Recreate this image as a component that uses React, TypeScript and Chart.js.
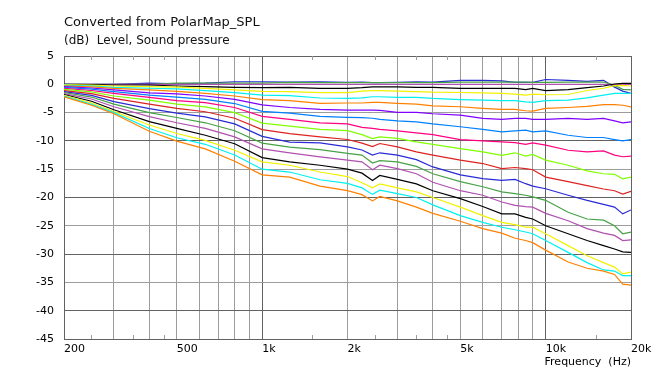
import { useEffect, useRef } from "react";
import { Chart, registerables } from "chart.js";

Chart.register(...registerables);

// ---------- data ----------
const FREQ_HZ = [200, 250, 300, 400, 500, 630, 800, 1000, 1250, 1600, 2000, 2250, 2450, 2600, 3000, 3500, 4000, 5000, 6000, 7000, 7800, 8500, 9000, 10000, 12000, 14000, 16000, 17500, 18700, 20000];

const ANGLE_LABELS = ["-10°", "-5°", "0°", "5°", "10°", "15°", "20°", "25°", "30°", "35°", "40°", "45°", "50°", "55°", "60°", "65°", "70°", "75°", "80°"];

const SPL_M10 = [0, 0, 0, 0.2, 0.1, 0.2, 0.45, 0.45, 0.4, 0.45, 0.35, 0.4, 0.3, 0.3, 0.35, 0.45, 0.4, 0.7, 0.7, 0.6, 0.35, 0.35, 0.35, 0.85, 0.7, 0.5, 0.7, -0.5, -1.2, -1.6];
const SPL_M5 = [0, 0, 0, 0, 0.2, 0.2, 0.2, 0.2, 0.35, 0.3, 0.3, 0.3, 0.3, 0.3, 0.3, 0.3, 0.3, 0.4, 0.4, 0.4, 0.4, 0.4, 0.35, 0.35, 0.4, 0.4, 0.4, -0.2, -0.9, -1.0];
const SPL_0 = [0, 0, 0, 0, 0, 0, 0, 0, 0, 0, 0, 0, 0, 0, 0, 0, 0, 0, 0, 0, 0, 0, 0, 0, 0, 0, 0, 0, 0, 0];
const SPL_5 = [-0.02, -0.05, -0.12, -0.12, -0.3, -0.42, -0.54, -0.57, -0.54, -0.72, -0.72, -0.6, -0.45, -0.45, -0.45, -0.55, -0.55, -0.72, -0.72, -0.72, -0.72, -0.95, -0.72, -1.1, -0.95, -0.6, -0.3, 0.05, 0.17, 0.17];
const SPL_10 = [-0.07, -0.15, -0.3, -0.4, -0.5, -0.72, -1.0, -1.25, -1.3, -1.48, -1.48, -1.2, -1.1, -1.1, -1.2, -1.3, -1.4, -1.45, -1.5, -1.6, -1.72, -1.9, -1.75, -1.85, -1.8, -1.1, -0.7, -0.25, -0.2, -0.3];
const SPL_15 = [-0.15, -0.3, -0.54, -0.7, -0.8, -1.13, -1.48, -1.9, -2.0, -2.42, -2.5, -2.4, -2.2, -2.2, -2.3, -2.3, -2.5, -2.7, -2.8, -2.9, -2.9, -3.1, -3.2, -2.9, -2.8, -2.4, -1.9, -1.6, -1.6, -1.6];
const SPL_20 = [-0.27, -0.45, -0.72, -1.0, -1.25, -1.6, -2.07, -2.7, -2.9, -3.37, -3.3, -3.3, -3.2, -3.2, -3.37, -3.5, -3.8, -3.97, -4.26, -4.44, -4.44, -4.67, -4.73, -4.26, -4.1, -3.9, -3.6, -3.6, -3.7, -4.0];
const SPL_25 = [-0.4, -0.65, -1.0, -1.5, -1.7, -2.07, -2.66, -3.65, -4.1, -4.43, -4.55, -4.56, -4.56, -4.6, -4.96, -4.96, -5.2, -5.44, -6.03, -6.21, -6.03, -6.03, -6.21, -6.21, -6.03, -6.21, -6.03, -6.45, -6.8, -6.63];
const SPL_30 = [-0.55, -0.85, -1.3, -1.9, -2.25, -2.66, -3.4, -4.77, -5.1, -5.68, -5.85, -5.9, -6.0, -6.2, -6.45, -6.63, -7.0, -7.5, -7.98, -8.4, -8.22, -8.1, -8.4, -8.22, -9.0, -9.4, -9.4, -9.76, -10.0, -9.76];
const SPL_35 = [-0.72, -1.1, -1.6, -2.3, -2.9, -3.25, -4.1, -5.66, -6.2, -6.8, -7.0, -7.6, -7.8, -7.98, -8.22, -8.57, -8.9, -9.76, -10.0, -10.17, -10.29, -10.6, -10.35, -10.76, -11.65, -11.95, -11.77, -12.5, -12.8, -12.7];
const SPL_40 = [-0.9, -1.35, -2.07, -2.8, -3.5, -4.0, -5.0, -6.85, -7.4, -7.97, -8.2, -8.9, -9.6, -9.28, -9.57, -10.17, -10.6, -11.35, -11.95, -12.54, -12.1, -12.7, -12.4, -13.4, -14.3, -15.3, -15.8, -15.9, -16.7, -16.4];
const SPL_45 = [-1.1, -1.65, -2.48, -3.5, -4.26, -4.85, -6.0, -8.0, -8.7, -9.28, -9.75, -10.4, -11.0, -10.46, -11.05, -11.94, -12.5, -13.4, -14.0, -14.9, -14.7, -14.9, -15.1, -16.4, -17.2, -17.9, -18.5, -18.8, -19.4, -18.9];
const SPL_50 = [-1.3, -1.95, -3.07, -4.3, -5.1, -5.75, -7.0, -9.2, -10.2, -10.34, -11.05, -11.6, -12.5, -12.1, -12.5, -13.3, -14.6, -16.0, -16.67, -16.97, -16.8, -17.56, -18.0, -18.45, -19.6, -20.5, -21.2, -21.7, -22.9, -22.2];
const SPL_55 = [-1.45, -2.25, -3.5, -5.0, -5.86, -6.8, -8.2, -10.4, -11.1, -11.53, -12.2, -12.5, -13.9, -13.5, -13.7, -14.5, -15.8, -17.2, -18.1, -19.0, -19.3, -19.6, -19.9, -20.5, -22.6, -23.8, -24.0, -25.0, -26.4, -26.1];
const SPL_60 = [-1.65, -2.6, -3.97, -5.7, -6.8, -7.8, -9.3, -11.4, -12.1, -12.83, -13.4, -13.7, -15.1, -14.3, -14.9, -15.8, -17.3, -18.8, -19.6, -20.8, -21.4, -21.6, -21.7, -22.8, -24.1, -25.5, -26.3, -26.7, -27.6, -27.5];
const SPL_65 = [-1.8, -3.0, -4.5, -6.6, -7.8, -9.0, -10.5, -12.95, -13.7, -14.3, -15.0, -15.7, -17.0, -16.1, -16.8, -17.6, -18.8, -20.2, -21.6, -22.9, -22.9, -23.5, -23.8, -25.0, -26.4, -27.6, -28.5, -29.1, -29.6, -29.7];
const SPL_70 = [-1.95, -3.3, -4.8, -7.2, -8.7, -9.9, -11.65, -13.7, -14.3, -15.5, -16.3, -17.4, -18.3, -17.6, -18.3, -19.0, -20.0, -21.7, -23.2, -24.4, -24.8, -25.25, -25.25, -26.4, -28.5, -30.3, -31.5, -32.3, -33.5, -33.2];
const SPL_75 = [-2.1, -3.55, -5.0, -7.8, -9.45, -10.6, -12.5, -15.0, -15.5, -16.86, -17.5, -18.3, -19.45, -18.7, -19.3, -20.0, -21.3, -23.2, -24.4, -25.25, -25.7, -26.1, -26.4, -27.6, -29.7, -31.5, -32.8, -33.0, -33.8, -33.8];
const SPL_80 = [-2.2, -3.7, -5.2, -8.3, -10.05, -11.4, -13.6, -16.0, -16.4, -18.0, -18.8, -19.5, -20.6, -19.8, -20.6, -21.7, -22.8, -24.2, -25.5, -26.3, -27.2, -27.6, -27.97, -29.3, -31.4, -32.5, -33.0, -33.6, -35.3, -35.5];

const SERIES = [SPL_M10, SPL_M5, SPL_0, SPL_5, SPL_10, SPL_15, SPL_20, SPL_25, SPL_30, SPL_35, SPL_40, SPL_45, SPL_50, SPL_55, SPL_60, SPL_65, SPL_70, SPL_75, SPL_80];

const PALETTE = ["#2a2ad6", "#46a246", "#b050b0", "#000000", "#f2f200", "#00f0f0", "#ff8000", "#8000ff", "#0080ff", "#ff0080", "#80ff00", "#dd2222"];

const X_TICKS = [200, 250, 300, 350, 400, 450, 500, 600, 700, 800, 900, 1000, 1500, 2000, 2500, 3000, 3500, 4000, 4500, 5000, 6000, 7000, 8000, 9000, 10000, 15000, 20000];
const X_MINOR = [250, 350, 450, 1500, 2500, 3500, 4500, 15000];
const X_MAJOR = [200, 1000, 10000, 20000];
const X_LABEL_VALUES = [200, 500, 1000, 2000, 5000, 10000, 20000];
const X_LABEL_TEXT = ["200", "500", "1k", "2k", "5k", "10k", "20k"];
const Y_TICKS = [5, 0, -5, -10, -15, -20, -25, -30, -35, -40, -45];

const TITLE = "Converted from PolarMap_SPL";
const SUBTITLE = "(dB)  Level, Sound pressure";
const X_TITLE = "Frequency  (Hz)";

// ---------- styles ----------
const FONT = "'DejaVu Sans', Verdana, sans-serif";
const DARK_GRID = "#626262";
const LIGHT_GRID = "#9c9c9c";

const headerPlugin = {
  id: "header",
  afterDraw(chart: any) {
    const { ctx, chartArea } = chart;
    ctx.save();
    ctx.fillStyle = "#111";
    ctx.textAlign = "left";
    ctx.textBaseline = "alphabetic";
    ctx.font = `13px ${FONT}`;
    ctx.fillText(TITLE, chartArea.left, 26);
    ctx.font = `12px ${FONT}`;
    ctx.fillText(SUBTITLE, chartArea.left, 43.5);
    ctx.restore();
  },
};

const minorTickPlugin = {
  id: "minorTicks",
  beforeDatasetsDraw(chart: any) {
    const { ctx, chartArea } = chart;
    const xs = chart.scales.x;
    ctx.save();
    ctx.strokeStyle = LIGHT_GRID;
    ctx.lineWidth = 1;
    ctx.beginPath();
    for (const v of X_MINOR) {
      const px = Math.round(xs.getPixelForValue(v)) + 0.5;
      ctx.moveTo(px, chartArea.top);
      ctx.lineTo(px, chartArea.top + 4);
      ctx.moveTo(px, chartArea.bottom);
      ctx.lineTo(px, chartArea.bottom - 4);
    }
    ctx.stroke();
    ctx.restore();
  },
};

export default function App() {
  const ref = useRef<HTMLCanvasElement>(null);

  useEffect(() => {
    const canvas = ref.current;
    if (!canvas) return;
    const datasets = SERIES.map((vals, i) => ({
      label: ANGLE_LABELS[i],
      data: vals.map((v, j) => ({ x: FREQ_HZ[j], y: v })),
      borderColor: PALETTE[i % PALETTE.length],
      backgroundColor: PALETTE[i % PALETTE.length],
      borderWidth: 1.2,
      pointRadius: 0,
      tension: 0,
      fill: false,
      order: -i,
    }));

    const chart = new Chart(canvas, {
      type: "line",
      data: { datasets },
      plugins: [minorTickPlugin, headerPlugin],
      options: {
        animation: false,
        responsive: false,
        devicePixelRatio: 1,
        layout: { padding: { top: 56, right: 23, left: 0, bottom: 0 } },
        plugins: {
          legend: { display: false },
          tooltip: { enabled: false },
          title: { display: false },
        },
        scales: {
          x: {
            type: "logarithmic",
            min: 200,
            max: 20000,
            afterBuildTicks: (scale: any) => {
              scale.ticks = X_TICKS.map((v) => ({ value: v }));
            },
            afterFit: (scale: any) => {
              scale.height = 35;
              scale.paddingLeft = 0;
              scale.paddingRight = 0;
            },
            grid: {
              drawTicks: false,
              color: (ctx: any) => {
                const v = ctx.tick ? ctx.tick.value : 0;
                if (X_MINOR.includes(v)) return "rgba(0,0,0,0)";
                return X_MAJOR.includes(v) ? DARK_GRID : LIGHT_GRID;
              },
            },
            border: { display: true, color: DARK_GRID },
            ticks: {
              autoSkip: false,
              maxRotation: 0,
              align: "start",
              padding: 4,
              color: "#000",
              font: { family: FONT, size: 11 },
              callback: (value: any) => {
                const idx = X_LABEL_VALUES.indexOf(Number(value));
                return idx >= 0 ? X_LABEL_TEXT[idx] : "";
              },
            },
            title: {
              display: true,
              text: X_TITLE,
              align: "end",
              color: "#000",
              font: { family: FONT, size: 11 },
              padding: { top: 0, bottom: 5 },
            },
          },
          y: {
            type: "linear",
            min: -45,
            max: 5,
            afterBuildTicks: (scale: any) => {
              scale.ticks = Y_TICKS.map((v) => ({ value: v }));
            },
            afterFit: (scale: any) => {
              scale.width = 64;
            },
            grid: {
              drawTicks: false,
              color: (ctx: any) => {
                const v = ctx.tick ? ctx.tick.value : 0;
                return v % 10 === 0 || v === 5 || v === -45 ? DARK_GRID : LIGHT_GRID;
              },
            },
            border: { display: true, color: DARK_GRID },
            ticks: {
              padding: 10,
              color: "#000",
              font: { family: FONT, size: 11 },
              callback: (value: any) => String(value),
            },
          },
        },
      },
    } as any);

    return () => chart.destroy();
  }, []);

  return (
    <div style={{ position: "fixed", left: 0, top: 0, width: 654, height: 374, background: "#fff" }}>
      <canvas ref={ref} width={654} height={374} style={{ display: "block", width: 654, height: 374 }} />
    </div>
  );
}
